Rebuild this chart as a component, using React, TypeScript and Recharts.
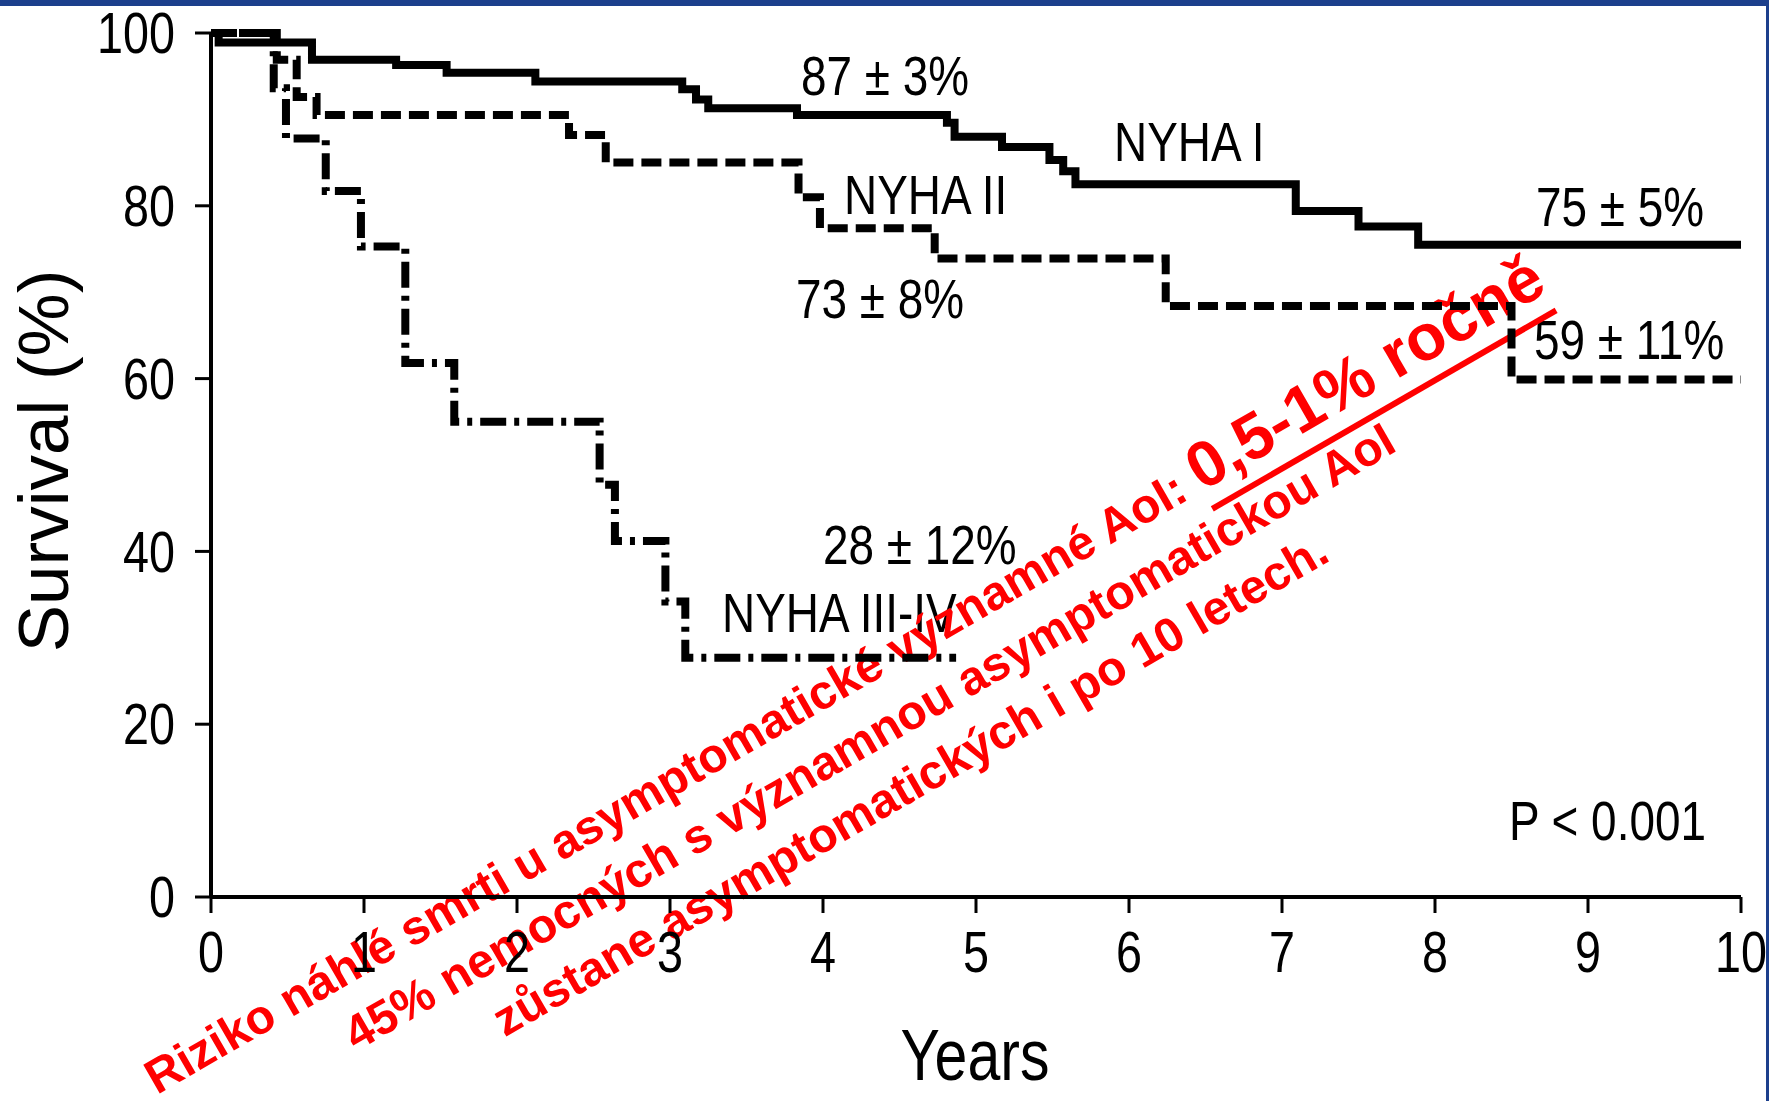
import { LineChart, Line, XAxis, YAxis, Customized } from 'recharts';

// Kaplan-Meier survival by NYHA class (years, % survival)
const nyha1Years = [0, 0.05, 0.66, 1.21, 1.54, 2.12, 3.08, 3.17, 3.25, 3.83, 4.81, 4.86, 5.17, 5.48, 5.57, 5.65, 7.09, 7.5, 7.89, 10];
const nyha1Surv = [100, 98.9, 96.9, 96.3, 95.4, 94.4, 93.5, 92.3, 91.3, 90.5, 89.6, 88.0, 86.8, 85.3, 84.0, 82.5, 79.4, 77.6, 75.5, 75.5];

const nyha2Years = [0, 0.43, 0.56, 0.69, 2.34, 2.58, 3.84, 3.98, 4.73, 6.24, 8.5, 10];
const nyha2Surv = [100, 96.9, 92.6, 90.5, 88.2, 85.0, 81.0, 77.4, 73.9, 68.4, 59.9, 59.9];

const nyha34Years = [0, 0.41, 0.49, 0.75, 0.98, 1.27, 1.59, 2.54, 2.64, 2.97, 3.1, 4.87];
const nyha34Surv = [100, 93.6, 87.8, 81.7, 75.3, 61.8, 55.0, 47.7, 41.2, 34.2, 27.7, 27.7];

const xTicks = [0, 1, 2, 3, 4, 5, 6, 7, 8, 9, 10];
const yTicks = [0, 20, 40, 60, 80, 100];

const toPoints = (xs: number[], ys: number[]) => xs.map((x, i) => ({ x, y: ys[i] }));

const SANS = "'Liberation Sans', Arial, sans-serif";
const SQUEEZE = 0.82; // the original uses a condensed Helvetica

// condensed text: Liberation Sans squeezed horizontally
function NText({ x, y, size, anchor = 'start', dy, children }: any) {
  return (
    <g transform={`translate(${x},${y}) scale(${SQUEEZE},1)`}>
      <text x={0} y={0} dy={dy} textAnchor={anchor} fontFamily={SANS} fontSize={size} fill="#000">
        {children}
      </text>
    </g>
  );
}

const YTick = (props: any) => (
  <NText x={props.x} y={props.y} size={57} anchor="end" dy="0.355em">{props.payload.value}</NText>
);
const XTick = (props: any) => (
  <NText x={props.x} y={props.y} size={57} anchor="middle" dy="0.71em">{props.payload.value}</NText>
);

function Annotations() {
  return (
    <g>
      <NText x={801} y={95} size={56}>87 ± 3%</NText>
      <NText x={1114} y={161} size={56}>NYHA I</NText>
      <NText x={1536} y={226} size={56}>75 ± 5%</NText>
      <NText x={844} y={214} size={56}>NYHA II</NText>
      <NText x={796} y={318} size={56}>73 ± 8%</NText>
      <NText x={1534} y={359} size={56}>59 ± 11%</NText>
      <NText x={823} y={564} size={56}>28 ± 12%</NText>
      <NText x={722} y={632} size={56}>NYHA III-IV</NText>
      <NText x={1509} y={840} size={56}>P &lt; 0.001</NText>
      <NText x={975} y={1080} size={72} anchor="middle">Years</NText>
      <text transform="translate(68,461) rotate(-90)" textAnchor="middle" fontFamily={SANS} fontSize={71} fill="#000">Survival (%)</text>
      <g transform="translate(157,1095) rotate(-30)" fill="#ff0000" fontFamily={SANS} fontWeight="bold">
        <text x={0} y={0} fontSize={48}>
          {'Riziko náhlé smrti u asymptomatické významné AoI: '}
          <tspan fontSize={65}>0,5-1% ročně</tspan>
        </text>
        <line x1={1207} y1={20} x2={1604} y2={20} stroke="#ff0000" strokeWidth={6} />
        <text x={194} y={62} fontSize={48}>45% nemocných s významnou asymptomatickou AoI</text>
        <text x={330} y={124} fontSize={48}>zůstane asymptomatických i po 10 letech.</text>
      </g>
    </g>
  );
}

export default function App() {
  return (
    <div style={{ position: 'absolute', left: 0, top: 0, width: 1769, height: 1101, background: '#fff', overflow: 'hidden' }}>
      <LineChart width={1769} height={1101} margin={{ top: 33, right: 28, bottom: 0, left: 0 }}>
        <XAxis
          type="number"
          dataKey="x"
          domain={[0, 10]}
          ticks={xTicks}
          height={204}
          axisLine={{ stroke: '#000', strokeWidth: 4 }}
          tickLine={{ stroke: '#000', strokeWidth: 3 }}
          tickSize={16}
          tickMargin={19}
          tick={XTick}
        />
        <YAxis
          type="number"
          dataKey="y"
          domain={[0, 100]}
          ticks={yTicks}
          width={211}
          axisLine={{ stroke: '#000', strokeWidth: 4 }}
          tickLine={{ stroke: '#000', strokeWidth: 3 }}
          tickSize={16}
          tickMargin={20}
          tick={YTick}
        />
        <Line data={toPoints(nyha1Years, nyha1Surv)} dataKey="y" type="stepAfter" stroke="#000" strokeWidth={8} dot={false} isAnimationActive={false} />
        <Line data={toPoints(nyha2Years, nyha2Surv)} dataKey="y" type="stepAfter" stroke="#000" strokeWidth={8} strokeDasharray="20 8" dot={false} isAnimationActive={false} />
        <Line data={toPoints(nyha34Years, nyha34Surv)} dataKey="y" type="stepAfter" stroke="#000" strokeWidth={8} strokeDasharray="26 8 5 8" dot={false} isAnimationActive={false} />
        <Customized component={Annotations} />
      </LineChart>
      <div style={{ position: 'absolute', left: 0, top: 0, width: 1769, height: 6, background: '#1c3f8c' }} />
      <div style={{ position: 'absolute', right: 0, top: 0, width: 3, height: 1101, background: '#1c3f8c' }} />
    </div>
  );
}
